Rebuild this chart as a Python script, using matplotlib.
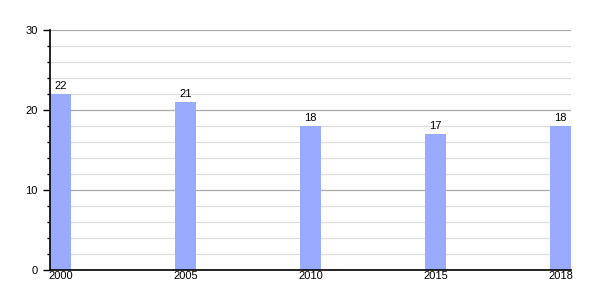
import numpy as np
import matplotlib.pyplot as plt
from matplotlib.ticker import MultipleLocator

# data
years = ['2000', '2005', '2010', '2015', '2018']
values = [22, 21, 18, 17, 18]

plt.rcParams['font.family'] = ['Liberation Sans', 'DejaVu Sans']

fig = plt.figure(figsize=(6, 3), dpi=100)
ax = fig.add_axes([50 / 600, 0.1, 521 / 600, 0.8])

x = np.arange(len(years))
w = 0.168
bars = ax.bar(x, values, width=w, color='#99aaff', zorder=3)
for xi, v in zip(x, values):
    ax.text(xi, v + 0.4, str(v), ha='center', va='bottom', fontsize=8, zorder=4)

ax.set_xlim(-w / 2, len(years) - 1 + w / 2)
ax.set_ylim(0, 30)
ax.set_xticks(x)
ax.set_xticklabels(years)
ax.yaxis.set_major_locator(MultipleLocator(10))
ax.yaxis.set_minor_locator(MultipleLocator(2))

ax.grid(which='major', axis='y', color='#aaaaaa', linewidth=0.9, zorder=1)
ax.grid(which='minor', axis='y', color='#dddddd', linewidth=0.9, zorder=1)

for s in ['top', 'right']:
    ax.spines[s].set_visible(False)
ax.spines['left'].set_linewidth(1.2)
ax.spines['bottom'].set_linewidth(1.2)
ax.spines['left'].set_zorder(5)
ax.spines['bottom'].set_zorder(5)

ax.tick_params(axis='x', length=0, pad=1, labelsize=8)
ax.tick_params(axis='y', which='major', length=5, width=1, pad=4, labelsize=8)
ax.tick_params(axis='y', which='minor', length=2, width=1)

fig.savefig('out.png', dpi=100)
